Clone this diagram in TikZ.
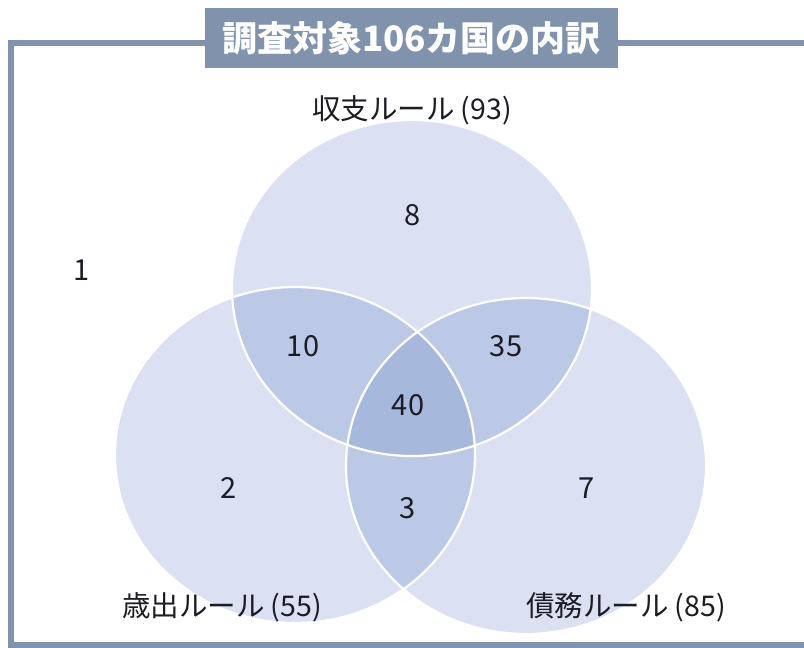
\documentclass[tikz,border=0pt]{standalone}
\usepackage{fontspec}
\setmainfont{Noto Sans CJK JP}
\definecolor{framecol}{HTML}{8092AC}
\definecolor{singlecol}{HTML}{DBE1F2}
\definecolor{doublecol}{HTML}{BBC8E6}
\definecolor{triplecol}{HTML}{A7B8DD}
\definecolor{txtcol}{HTML}{1C1C24}
\tikzset{
  lbl/.style={font=\fontsize{28.5}{31}\selectfont, text=txtcol, inner sep=0pt},
  num/.style={font=\fontsize{29}{32}\selectfont, text=txtcol, inner sep=0pt},
  titlebox/.style={fill=framecol, text=white, inner sep=0pt, minimum width=413pt, minimum height=60pt, font=\bfseries\fontsize{35}{38}\selectfont},
  venn/.style={x radius=180pt, y radius=168pt},
  edge/.style={draw=white, line width=2.2pt}
}
\begin{document}
\begin{tikzpicture}[x=1pt,y=-1pt]
\useasboundingbox (0,0) rectangle (804,648);
\fill[white] (0,0) rectangle (804,648);
% frame
\draw[framecol, line width=6pt] (11,43) rectangle (815,645);
% circle centres
\coordinate (cT) at (412,288);
\coordinate (cL) at (295,455);
\coordinate (cR) at (526,466);
% single fills
\fill[singlecol] (cT) ellipse[venn];
\fill[singlecol] (cL) ellipse[venn];
\fill[singlecol] (cR) ellipse[venn];
% double overlaps
\begin{scope}
  \clip (cT) ellipse[venn];
  \fill[doublecol] (cL) ellipse[venn];
  \fill[doublecol] (cR) ellipse[venn];
\end{scope}
\begin{scope}
  \clip (cL) ellipse[venn];
  \fill[doublecol] (cR) ellipse[venn];
\end{scope}
% triple overlap
\begin{scope}
  \clip (cT) ellipse[venn];
  \clip (cL) ellipse[venn];
  \fill[triplecol] (cR) ellipse[venn];
\end{scope}
% white outlines
\draw[edge] (cT) ellipse[venn];
\draw[edge] (cL) ellipse[venn];
\draw[edge] (cR) ellipse[venn];
% title
\node[titlebox] (title) at (411.5,38) {調査対象106カ国の内訳};
% labels
\node[lbl] (lT) at (412,110) {収支ルール (93)};
\node[lbl] (lL) at (222,607) {歳出ルール (55)};
\node[lbl] (lR) at (626,607) {債務ルール (85)};
% numbers
\node[num] (n1) at (82,270) {1};
\node[num] (n8) at (413,215) {8};
\node[num] (n10) at (303,346) {10};
\node[num] (n35) at (506,346) {35};
\node[num] (n40) at (408,405) {40};
\node[num] (n2) at (229,488) {2};
\node[num] (n3) at (408,508) {3};
\node[num] (n7) at (587,488) {7};
\end{tikzpicture}
\end{document}
